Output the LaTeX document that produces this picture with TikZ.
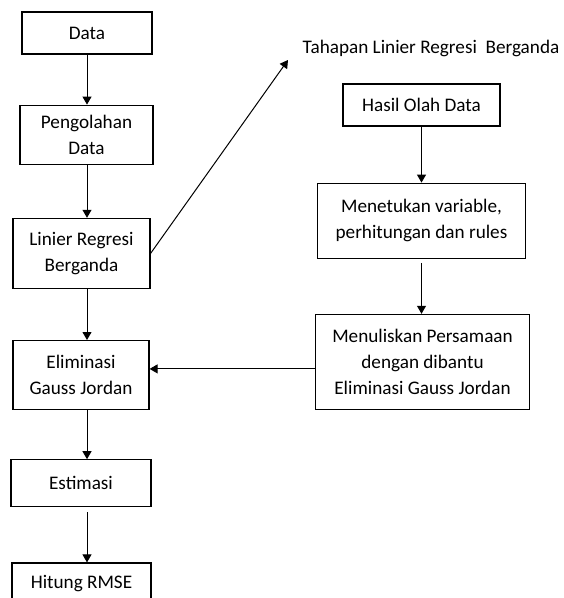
\documentclass[tikz,border=0pt]{standalone}
\usepackage{fontspec}
\setmainfont{Carlito}
\usetikzlibrary{arrows.meta,positioning}

\begin{document}
\begin{tikzpicture}[x=0.5pt,y=-0.5pt,>={Triangle[length=4pt,width=4.5pt]},
 font=\fontsize{9.6}{13}\selectfont,line width=0.5pt,
 proses/.style={draw,line width=0.6pt,inner sep=0pt,align=center},
 tahap/.style={draw,line width=0.6pt,inner sep=0pt,align=center}]
\clip (0,0) rectangle (563,598);
% kolom kiri
\node[proses,minimum width=65pt,minimum height=21pt] (data) at (87,33) {Data};
\node[proses,minimum width=66.5pt,minimum height=29.5pt,below=25pt of data,xshift=-0.25pt] (olah) {Pengolahan\\Data};
\node[proses,minimum width=68.5pt,minimum height=35pt,below=26.5pt of olah,xshift=-2.5pt] (linier) {Linier Regresi\\Berganda};
\node[proses,minimum width=68pt,minimum height=34.5pt,below=25.5pt of linier,xshift=-0.25pt] (elim) {Eliminasi\\Gauss Jordan};
\node[proses,minimum width=70pt,minimum height=23.5pt,below=24.5pt of elim] (estim) {Estimasi};
\node[proses,minimum width=69.5pt,text height=12.5pt,text depth=16pt,below=27.5pt of estim,xshift=0.25pt] (rmse) {Hitung RMSE};
% kolom kanan
\node (judul) at (431,48) {Tahapan Linier Regresi\ \ Berganda};
\node[tahap,minimum width=78.5pt,minimum height=21pt] (hasil) at (421.5,105) {Hasil Olah Data};
\node[tahap,minimum width=104pt,minimum height=37.5pt,below=28pt of hasil] (tentu) {Menetukan variable,\\perhitungan dan rules};
\node[tahap,minimum width=107pt,minimum height=47.5pt,below=27.5pt of tentu,xshift=0.5pt] (tulis) {Menuliskan Persamaan\\dengan dibantu\\Eliminasi Gauss Jordan};
\coordinate (ujung) at (288,60);

\draw[->] (data) -- (data |- olah.north);
\draw[->] (data |- olah.south) -- (data |- linier.north);
\draw[->] (data |- linier.south) -- (data |- elim.north);
\draw[->] (data |- elim.south) -- (data |- estim.north);
\draw[->] ([yshift=-2.5pt]data |- estim.south) -- (data |- rmse.north);
\draw[->] (linier.east) -- (ujung);
\draw[->] (hasil) -- (tentu);
\draw[->] ([yshift=-2pt]tentu.south) -- (tentu.south |- tulis.north);
\draw[->] ([yshift=-3.5pt]tulis.west) -- ([yshift=-3.5pt]tulis.west -| elim.east);
\end{tikzpicture}
\end{document}
